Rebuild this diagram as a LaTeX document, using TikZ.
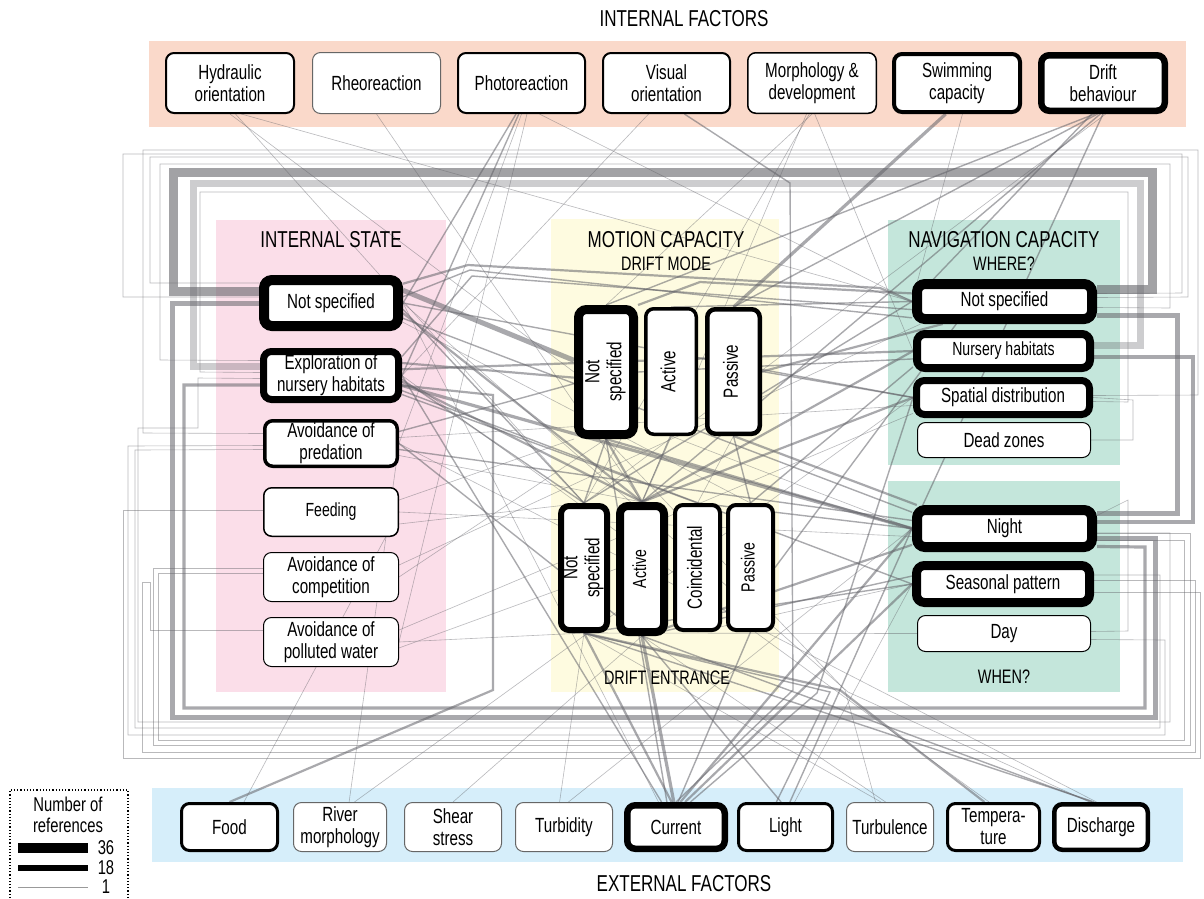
\documentclass[tikz,border=0pt]{standalone}
\usepackage{fontspec}
\setmainfont{Liberation Sans}[FakeStretch=0.74]
\usepackage{graphicx}
\pgfdeclarelayer{back}
\pgfdeclarelayer{wires}
\pgfsetlayers{back,wires,main}
\definecolor{salm}{RGB}{250,217,202}
\definecolor{pinkp}{RGB}{251,222,233}
\definecolor{yelp}{RGB}{254,251,224}
\definecolor{grnp}{RGB}{196,230,219}
\definecolor{blup}{RGB}{214,238,250}
\definecolor{lc}{RGB}{100,100,106}
\newcommand\bxfont{\fontsize{20.5}{22}\selectfont}
\newcommand\smfont{\fontsize{19}{21}\selectfont}
\newcommand\ttlfont{\fontsize{23}{26}\selectfont}
\newcommand\subfont{\fontsize{19.5}{22}\selectfont}
\newcommand\lgfont{\fontsize{20}{21}\selectfont}
\newcommand\rt[1]{\rotatebox{90}{\begin{tabular}{@{}c@{}}#1\end{tabular}}}
\tikzset{
 bx/.style={draw=black, fill=white, rounded corners=8pt, align=center, inner sep=0pt, font=\bxfont},
 ttl/.style={inner sep=0pt, font=\ttlfont},
 subt/.style={inner sep=0pt, font=\subfont},
 wire/.style={draw=lc, draw opacity=0.55, line join=miter},
 w1/.style={wire, line width=0.6pt, draw opacity=0.45},
 w2/.style={wire, line width=1.4pt},
 w3/.style={wire, line width=2.2pt},
 w4/.style={wire, line width=3.2pt},
 w6/.style={wire, line width=5pt},
 w8/.style={wire, line width=7pt},
 w10/.style={wire, line width=9pt, draw opacity=0.6},
 wlight/.style={wire, draw opacity=0.32, line width=7pt},
}
\begin{document}
\begin{tikzpicture}[x=1pt,y=-1pt]
\useasboundingbox (0,0) rectangle (1204,898);
\begin{pgfonlayer}{back}
 \fill[white] (0,0) rectangle (1204,898);
 \fill[salm] (149,41) rectangle (1186,127);
 \fill[pinkp] (216,220) rectangle (446,692);
 \fill[yelp] (551,219) rectangle (779,692);
 \fill[grnp] (888,220) rectangle (1120,465);
 \fill[grnp] (888,481) rectangle (1120,692);
 \fill[blup] (152,788) rectangle (1183,862);
\end{pgfonlayer}

% titles
\node[ttl] (tif) at (684,19) {INTERNAL FACTORS};
\node[ttl] (tis) at (331,240) {INTERNAL STATE};
\node[ttl] (tmc) at (666,240) {MOTION CAPACITY};
\node[subt] (tdm) at (666,264) {DRIFT MODE};
\node[ttl] (tnc) at (1004,240) {NAVIGATION CAPACITY};
\node[subt] (twh) at (1004,264) {WHERE?};
\node[subt] (tde) at (667,678) {DRIFT ENTRANCE};
\node[subt] (twn) at (1004,677) {WHEN?};
\node[ttl] (tef) at (684,884) {EXTERNAL FACTORS};

% internal factors
\node[bx, line width=2pt, minimum width=128pt, minimum height=60pt] (hyd) at (230,83) {Hydraulic\\orientation};
\node[bx, draw=black!60, line width=1pt, minimum width=128pt, minimum height=61pt] (rheo) at (376.5,83) {Rheoreaction};
\node[bx, line width=2pt, minimum width=127pt, minimum height=60pt] (photo) at (521.5,83) {Photoreaction};
\node[bx, line width=2pt, minimum width=127pt, minimum height=60pt] (visual) at (666.5,83) {Visual\\orientation};
\node[bx, line width=1.5pt, minimum width=128.5pt, minimum height=60.5pt] (morph) at (812,83) {Morphology \&\\development};
\node[bx, line width=4pt, minimum width=126pt, minimum height=58pt] (swim) at (957,83) {Swimming\\capacity};
\node[bx, line width=6.5pt, minimum width=123.5pt, minimum height=55.5pt] (drift) at (1103,83) {Drift\\behaviour};

% internal state
\node[bx, line width=10pt, minimum width=134pt, minimum height=46pt] (isns) at (331,303) {Not specified};
\node[bx, line width=7pt, minimum width=135pt, minimum height=48pt] (isex) at (331,375.5) {Exploration of\\nursery habitats};
\node[bx, line width=3.5pt, minimum width=132.5pt, minimum height=45.5pt] (ispr) at (331,443.5) {Avoidance of\\predation};
\node[bx, line width=1.5pt, minimum width=134.5pt, minimum height=48.5pt, font=\smfont] (isfe) at (331,512) {Feeding};
\node[bx, line width=1pt, minimum width=135pt, minimum height=49pt] (isco) at (331,577) {Avoidance of\\competition};
\node[bx, line width=1pt, minimum width=135pt, minimum height=49pt] (ispo) at (331,642) {Avoidance of\\polluted water};

% motion capacity
\node[bx, line width=9pt, minimum width=55pt, minimum height=125pt] (mns) at (606,372) {\rt{Not\\specified}};
\node[bx, line width=3.5pt, minimum width=50.5pt, minimum height=125.5pt] (mac) at (671,371.5) {\rt{Active}};
\node[bx, line width=4.5pt, minimum width=52.5pt, minimum height=124.5pt] (mpa) at (733.5,371.5) {\rt{Passive}};
\node[bx, line width=6pt, minimum width=46pt, minimum height=124pt] (ens) at (584,568) {\rt{Not\\specified}};
\node[bx, line width=8pt, minimum width=44pt, minimum height=126pt, font=\smfont] (eac) at (642,569) {\rt{Active}};
\node[bx, line width=4pt, minimum width=45pt, minimum height=125pt] (eco) at (697.5,567.5) {\rt{Coincidental}};
\node[bx, line width=4pt, minimum width=45pt, minimum height=125pt, font=\smfont] (epa) at (750.5,567.5) {\rt{Passive}};

% navigation capacity
\node[bx, line width=10pt, minimum width=175pt, minimum height=35pt] (nns) at (1004.5,301.5) {Not specified};
\node[bx, line width=8pt, minimum width=173pt, minimum height=34pt, font=\smfont] (nnu) at (1003.5,351) {Nursery habitats};
\node[bx, line width=7pt, minimum width=173pt, minimum height=34pt] (nsp) at (1003,397.5) {Spatial distribution};
\node[bx, line width=1pt, minimum width=173pt, minimum height=35pt] (ndz) at (1004,440) {Dead zones};
\node[bx, line width=10pt, minimum width=175pt, minimum height=37pt] (nni) at (1004.5,528.5) {Night};
\node[bx, line width=9pt, minimum width=173pt, minimum height=37pt] (nse) at (1003,584) {Seasonal pattern};
\node[bx, line width=1pt, minimum width=173pt, minimum height=36pt] (nda) at (1004,633.5) {Day};

% external factors
\node[bx, line width=3pt, minimum width=96pt, minimum height=47pt] (food) at (229.5,827) {Food};
\node[bx, draw=black!60, line width=1pt, minimum width=93pt, minimum height=49pt] (river) at (340,827) {River\\morphology};
\node[bx, draw=black!60, line width=1pt, minimum width=97pt, minimum height=49pt] (shear) at (453,827) {Shear\\stress};
\node[bx, draw=black!60, line width=1pt, minimum width=97pt, minimum height=49pt] (turb) at (564,827) {Turbidity};
\node[bx, line width=6.5pt, minimum width=97.5pt, minimum height=43.5pt] (curr) at (676,827) {Current};
\node[bx, line width=3pt, minimum width=94pt, minimum height=47pt] (light) at (785.5,827) {Light};
\node[bx, draw=black!60, line width=1pt, minimum width=87pt, minimum height=49pt] (turbu) at (890,827) {Turbulence};
\node[bx, line width=3pt, minimum width=92pt, minimum height=47pt] (temp) at (993.5,827) {Tempera-\\ture};
\node[bx, line width=4.5pt, minimum width=93.5pt, minimum height=45.5pt] (disc) at (1101,827) {Discharge};

\begin{pgfonlayer}{wires}
% thick frame loops
\draw[w10] ([yshift=12pt]isns.west) -- (173,291) -- (173,172) -- (1152,172) -- (1152,289) -- ([yshift=12.5pt]nns.east);
\draw[wlight] ([yshift=9.5pt]isex.west) -- (193,366) -- (193,183) -- (1140,183) -- (1140,345) -- ([yshift=6pt]nnu.east);
\draw[w6] (isns.west) -- (172,303) -- (172,717) -- (1155,717) -- (1155,538) -- ([yshift=-9.5pt]nni.east);
\draw[w4] ([yshift=-9.5pt]isex.west) -- (184,385) -- (184,708) -- (1145,708) -- (1145,547) -- ([yshift=-18pt]nni.east);
\draw[w6] ([yshift=-13.5pt]nns.east) -- (1177,315) -- (1177,513) -- ([yshift=15.5pt]nni.east);
\draw[w4] ([yshift=-6pt]nnu.east) -- (1193,357) -- (1193,522) -- ([yshift=6.5pt]nni.east);
% thin frame loops
\draw[w1] ([yshift=20pt]isns.west) -- (150,283) -- (150,157) -- (1188,157) -- (1188,297) -- ([yshift=4pt]nns.east);
\draw[w1] ([yshift=15pt]isex.west) -- (160,360) -- (160,164) -- (1170,164) -- (1170,308) -- ([yshift=-6pt]nns.east);
\draw[w1] ([yshift=10pt]ispr.west) -- (143,433) -- (143,150) -- (1198,150) -- (1198,395) -- ([yshift=2pt]nsp.east);
\draw[w1] ([yshift=3pt]isex.west) -- (200,372) -- (200,192) -- (1128,192) -- (1128,402) -- ([yshift=-4pt]nsp.east);
\draw[w1] ([yshift=6pt]isns.west) -- (123,297) -- (123,154) -- (1182,154) -- (1182,293) -- ([yshift=8pt]nns.east);
\draw[w1] ([yshift=2pt]isfe.west) -- (123,510) -- (123,758) -- (1200,758) -- (1200,592) -- ([yshift=-8pt]nse.east);
\draw[w1] ([yshift=9pt]isco.west) -- (153,568) -- (153,745) -- (1190,745) -- (1190,533) -- ([yshift=-4.5pt]nni.east);
\draw[w1] ([yshift=4pt]isco.west) -- (158,573) -- (158,740) -- (1184,740) -- (1184,540) -- ([yshift=-11.5pt]nni.east);
\draw[w1] ([yshift=12pt]ispo.west) -- (150,630) -- (150,582) -- (142,582) -- (142,752) -- (1195,752) -- (1195,580) -- ([yshift=4pt]nse.east);
\draw[w1] ([yshift=-2pt]ispr.west) -- (128,446) -- (128,735) -- (1165,735) -- (1165,640) -- ([yshift=-6pt]nda.east);
\draw[w1] ([yshift=-6pt]ispr.west) -- (135,450) -- (135,728) -- (1160,728) -- (1160,575) -- ([yshift=9pt]nse.east);
\draw[w1] ([yshift=-3pt]isex.west) -- (198,378) -- (198,428) -- (138,428) -- (138,722) -- (1170,722) -- (1170,533) -- ([yshift=-4.5pt]nni.east);
\draw[w1] ([yshift=2pt]nda.east) -- (1128,631) -- (1128,500) -- ([yshift=13pt]nni.east);
\draw[w1] (ndz.east) -- (1133,440) -- (1133,400) -- (nsp.east);
% internal state to centre
\draw[w6] (isns.10) -- (mns.160);
\draw[w3] (isns.15) -- (468,265) -- (880,288) -- (nns.west);
\draw[w2] (isns.5) -- (470,270) -- (nns.190);
\draw[w2] (isns.-5) -- (ens.north);
\draw[w3] (isns.-8) -- (eac.north);
\draw[w2] (isns.-12) -- (nni.170);
\draw[w2] (isns.0) -- (nsp.west);
\draw[w1] (isns.-15) -- (epa.north);
\draw[w3] (isex.10) -- (mns.190);
\draw[w2] (isex.15) -- (472,276) -- (nns.185);
\draw[w3] (isex.5) -- (nnu.west);
\draw[w3] (isex.-5) -- (eac.north);
\draw[w2] (isex.-3) -- (ens.north);
\draw[w4] (isex.-8) -- (nni.west);
\draw[w2] (isex.-12) -- (nse.west);
\draw[w2] (isex.-15) -- (eco.north);
\draw[w2] (ispr.10) -- (mns.200);
\draw[w1] (ispr.5) -- (nsp.185);
\draw[w2] (ispr.-5) -- (nni.175);
\draw[w1] (ispr.-10) -- (eac.north);
\draw[w1] (isfe.10) -- (mns.south west);
\draw[w1] (isfe.0) -- (nni.185);
\draw[w1] (isfe.-10) -- (ens.north);
\draw[w1] (isco.10) -- (nns.195);
\draw[w1] (isco.0) -- (mns.south);
\draw[w1] (ispo.10) -- (nsp.190);
\draw[w1] (ispo.-5) -- (eac.west);
% motion to navigation
\draw[w3] (mns.north east) -- (700,282) -- (nns.175);
\draw[w2] (mns.east) -- (nnu.185);
\draw[w3] (mns.south) -- (nni.west);
\draw[w2] (mns.south) -- (ens.north);
\draw[w3] (mns.south) -- (eac.north);
\draw[w2] (mac.north) -- (nns.west);
\draw[w2] (mac.south) -- (eac.north);
\draw[w1] (mac.south) -- (nni.west);
\draw[w3] (mpa.east) -- (nns.200);
\draw[w2] (mpa.east) -- (nsp.west);
\draw[w3] (mpa.south) -- (nni.165);
\draw[w2] (mpa.south) -- (epa.north);
\draw[w1] (mpa.south) -- (eco.north);
\draw[w2] (ens.north) -- (nns.west);
\draw[w3] (eac.north) -- (nnu.west);
\draw[w3] (eac.north) -- (nsp.west);
\draw[w2] (eco.north) -- (nni.west);
\draw[w2] (epa.east) -- (nns.205);
\draw[w2] (epa.north) -- (nnu.190);
\draw[w2] (ens.south) -- (nse.west);
\draw[w3] (eac.south) -- (nni.190);
\draw[w2] (eac.south) -- (nse.175);
\draw[w1] (ens.south) -- (nda.west);
\draw[w1] (eco.south) -- (nse.west);
\draw[w1] (ens.south) -- (ispo.east);
\draw[w2] (eac.south) -- (ispr.east);
% internal factors
\draw[w1] (hyd.south) -- (mns.west);
\draw[w1] (hyd.-80) -- (ens.north);
\draw[w1] (hyd.-70) -- (nns.west);
\draw[w1] (rheo.south) -- (eac.north);
\draw[w2] (photo.-100) -- (isns.east);
\draw[w2] (photo.-95) -- (isex.east);
\draw[w1] (photo.-90) -- (ispr.east);
\draw[w1] (photo.-80) -- (ispo.east);
\draw[w1] (photo.-60) -- (nns.west);
\draw[w2] (visual.-60) -- (790,183) -- (793,690) -- (curr.north);
\draw[w1] (visual.-120) -- (isex.east);
\draw[w1] (morph.-100) -- (eac.north);
\draw[w1] (morph.-95) -- (ens.north);
\draw[w1] (morph.-90) -- (mns.north);
\draw[w1] (morph.-85) -- (nnu.west);
\draw[w4] (swim.-110) -- (mpa.north);
\draw[w1] (swim.-80) -- (nns.west);
\draw[w2] (drift.-110) -- (nns.west);
\draw[w2] (drift.-105) -- (mns.north);
\draw[w2] (drift.-100) -- (mpa.north);
\draw[w2] (drift.-95) -- (eac.north);
\draw[w2] (drift.-90) -- (nni.west);
\draw[w1] (drift.-85) -- (ens.north);
% external factors
\draw[w3] (food.north) -- (493,690) -- (493,395) -- ([yshift=-10pt]isex.east);
\draw[w1] (food.60) -- (isfe.east);
\draw[w1] (river.70) -- (ispr.east);
\draw[w1] (river.60) -- (nsp.west);
\draw[w1] (shear.north) -- (eac.south);
\draw[w1] (turb.80) -- (nni.west);
\draw[w1] (turb.100) -- (ens.south);
\draw[w3] (curr.100) -- (ens.south);
\draw[w4] (curr.95) -- (eac.south);
\draw[w3] (curr.80) -- (nni.west);
\draw[w3] (curr.70) -- (nse.west);
\draw[w2] (curr.120) -- (isex.east);
\draw[w2] (curr.110) -- (mns.south);
\draw[w2] (curr.85) -- (epa.south);
\draw[w1] (curr.125) -- (isns.east);
\draw[w2] (curr.60) -- (817,693) -- (nsp.west);
\draw[w2] (light.80) -- (nni.west);
\draw[w2] (light.100) -- (eac.south);
\draw[w1] (light.70) -- (nse.west);
\draw[w2] (light.110) -- (830,692) -- (ens.south);
\draw[w1] (turbu.100) -- (eac.south);
\draw[w1] (turbu.110) -- (ens.south);
\draw[w1] (turbu.120) -- (845,690) -- (mns.south);
\draw[w3] (temp.110) -- (840,690) -- (ens.south);
\draw[w1] (temp.100) -- (isex.east);
\draw[w2] (disc.110) -- (eac.south);
\draw[w2] (disc.105) -- (ens.south);
\draw[w1] (disc.100) -- (ispr.east);
\draw[w1] (disc.115) -- (848,692) -- (isns.east);
\end{pgfonlayer}

% legend
\draw[dotted, line width=1.2pt] (10,898) -- (10,790) -- (128,790) -- (128,898);
\node[inner sep=0pt, align=center, font=\lgfont] (legt) at (68,815) {Number of\\references};
\fill (18,843) rectangle (88,853);
\fill (18,865) rectangle (88,871);
\draw[black!40, line width=0.8pt] (18,887) -- (88,887);
\node[inner sep=0pt, font=\lgfont] (l36) at (106,848) {36};
\node[inner sep=0pt, font=\lgfont] (l18) at (106,868) {18};
\node[inner sep=0pt, font=\lgfont] (l1) at (106,887) {1};
\end{tikzpicture}
\end{document}
